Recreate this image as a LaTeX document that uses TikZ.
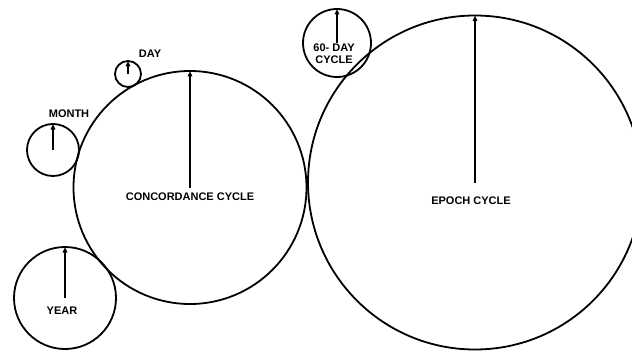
\documentclass[tikz,border=0pt]{standalone}
\usepackage{fontspec}
\setsansfont{Liberation Sans}
\usetikzlibrary{arrows.meta,positioning}

\begin{document}
\begin{tikzpicture}[x=1pt,y=-1pt,wheel/.style={draw,circle,outer sep=0pt,inner sep=0pt,line width=1.8pt},
 tag/.style={font=\sffamily\bfseries\fontsize{11}{12}\selectfont,inner sep=0pt,align=center},
 >={Triangle[length=5.5pt,width=4.5pt]},every path/.style={line width=1.5pt}]
\useasboundingbox (0,0) rectangle (632,353);
\node[wheel,minimum size=233pt] (concord) at (190,187.5) {};
\node[wheel,minimum size=334pt] (epoch) at (475,182.5) {};
\node[wheel,minimum size=52pt] (month) at (53,150) {};
\node[wheel,minimum size=26pt] (day) at (128,74) {};
\node[wheel,minimum size=68pt] (sixty) at (337,43) {};
\node[wheel,minimum size=102pt] (year) at (65,298) {};
\draw[->] (concord.center)--(concord.north);
\draw[->] (epoch.center)--(epoch.north);
\draw[->] (month.center)--(month.north);
\draw[->] (day.center)--(day.north);
\draw[->] (sixty.center)--(sixty.north);
\draw[->] (year.center)--(year.north);
\node[tag,below=5pt of concord.center] (concordtag) {CONCORDANCE CYCLE};
\node[tag,below=14pt of epoch.center,xshift=-4pt] (epochtag) {EPOCH CYCLE};
\node[tag,below=8pt of year.center,xshift=-3pt] (yeartag) {YEAR};
\node[tag,above=6pt of month.north,xshift=16pt] (monthtag) {MONTH};
\node[tag,above=3pt of day.north,xshift=22pt] (daytag) {DAY};
\node[tag,below=0pt of sixty.center,xshift=-3pt] (sixtytag) {60- DAY\\CYCLE};
\end{tikzpicture}
\end{document}
